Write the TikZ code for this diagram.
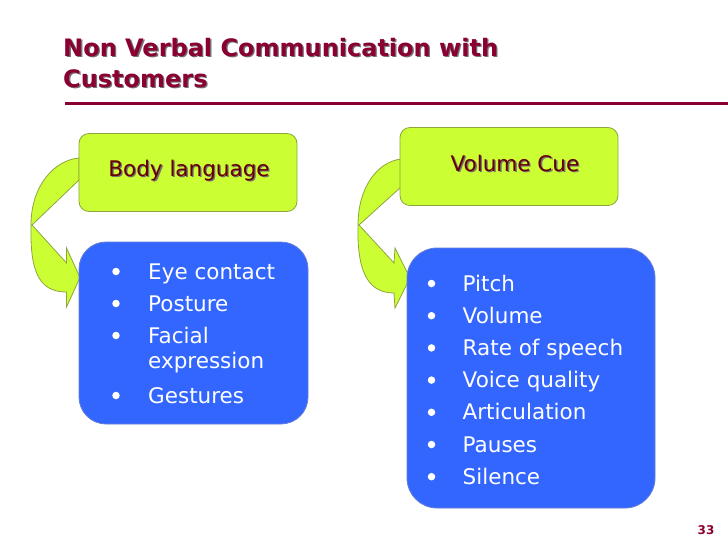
\documentclass[tikz,border=0pt]{standalone}
\usepackage{fontspec}
\usepackage{xcolor}
\setmainfont{DejaVu Sans}
\usetikzlibrary{positioning}

\definecolor{titlered}{RGB}{139,0,51}
\definecolor{limefill}{RGB}{204,255,51}
\definecolor{limeline}{RGB}{140,165,60}
\definecolor{bluefill}{RGB}{51,102,255}
\definecolor{blueline}{RGB}{100,125,215}
\definecolor{cuebrown}{RGB}{102,0,0}

% text with a small drop shadow
\newcommand{\shtxt}[2]{\rlap{\hspace{1.3pt}\raisebox{-1.3pt}{\color{black!55}#2}}{\color{#1}#2}}

\tikzset{
  greenbox/.style={rectangle, rounded corners=10pt, draw=limeline, fill=limefill, line width=0.8pt,
    minimum width=218pt, minimum height=78pt},
  bluebox/.style={rectangle, draw=blueline, fill=bluefill, line width=0.8pt},
  curvarrow/.style={draw=limeline, fill=limefill, line width=0.8pt, line join=miter},
  headtxt/.style={font=\fontsize{21.5}{25}\selectfont, anchor=base, inner sep=0pt},
  itemtxt/.style={font=\fontsize{21.5}{25}\selectfont, text=white, anchor=base west, inner sep=0pt},
  dot/.style={circle, fill=white, inner sep=0pt, minimum size=7.5pt},
  titletxt/.style={font=\fontsize{24}{30}\bfseries\selectfont, anchor=base west, inner sep=0pt}
}

\begin{document}
\begin{tikzpicture}[x=1pt, y=-1pt]
    \fill[white] (0,0) rectangle (728,546);
    \useasboundingbox (0,0) rectangle (728,546);

    % title
    \node[titletxt] (title1) at (63,56) {\shtxt{titlered}{Non Verbal Communication with}};
    \node[titletxt] (title2) at (63,87) {\shtxt{titlered}{Customers}};
    \draw[titlered, line width=3pt] (65,103) -- (728,103);

    % curved arrows (drawn first, boxes sit on top)
    \path[curvarrow] (79,158) .. controls (55,160) and (31,185) .. (31,225)
        .. controls (30,270) and (38,292) .. (66.5,292) -- (66.5,307) -- (80,277.5)
        -- (66.5,248) -- (66.5,263) -- (32,225) -- (79,180) -- cycle;
    \path[curvarrow] (401,159) .. controls (377,162) and (358,188) .. (358,225)
        .. controls (357,268) and (366,293) .. (394,293) -- (395,308) -- (410,278)
        -- (395,248) -- (394,263) -- (359,225) -- (401,187) -- cycle;

    % boxes
    \node[greenbox] (body) at (188,172.5) {};
    \node[bluebox, rounded corners=27pt, minimum width=229pt, minimum height=182pt] (bodylist) at (193.5,333) {};
    \node[greenbox] (vol) at (509,166.5) {};
    \node[bluebox, rounded corners=30pt, minimum width=248pt, minimum height=260pt] (vollist) at (531,378) {};

    \node[headtxt] (bodytxt) at (189,176) {\shtxt{cuebrown}{Body language}};
    \node[headtxt] (voltxt) at (515,171) {\shtxt{cuebrown}{Volume Cue}};

    % body language items
    \node[itemtxt] (eye) at (148,279) {Eye contact};
    \node[itemtxt] (post) at (148,311) {Posture};
    \node[itemtxt] (fac) at (148,343) {Facial};
    \node[itemtxt] (expr) at (148,368) {expression};
    \node[itemtxt] (gest) at (148,403) {Gestures};
    \node[dot] (b1) at (116,271.5) {};
    \node[dot] (b2) at (116,303.5) {};
    \node[dot] (b3) at (116,335.5) {};
    \node[dot] (b4) at (116,395.5) {};

    % volume cue items
    \foreach \txt [count=\i] in {Pitch, Volume, Rate of speech, Voice quality, Articulation, Pauses, Silence} {
        \node[itemtxt] (cue\i) at (462.5,{291+32.2*(\i-1)}) {\txt};
        \node[dot] (cb\i) at (431.5,{283.5+32.2*(\i-1)}) {};
    }

    \node[font=\fontsize{12}{14}\bfseries\selectfont, text=titlered] (pg) at (706,530) {33};
\end{tikzpicture}
\end{document}
